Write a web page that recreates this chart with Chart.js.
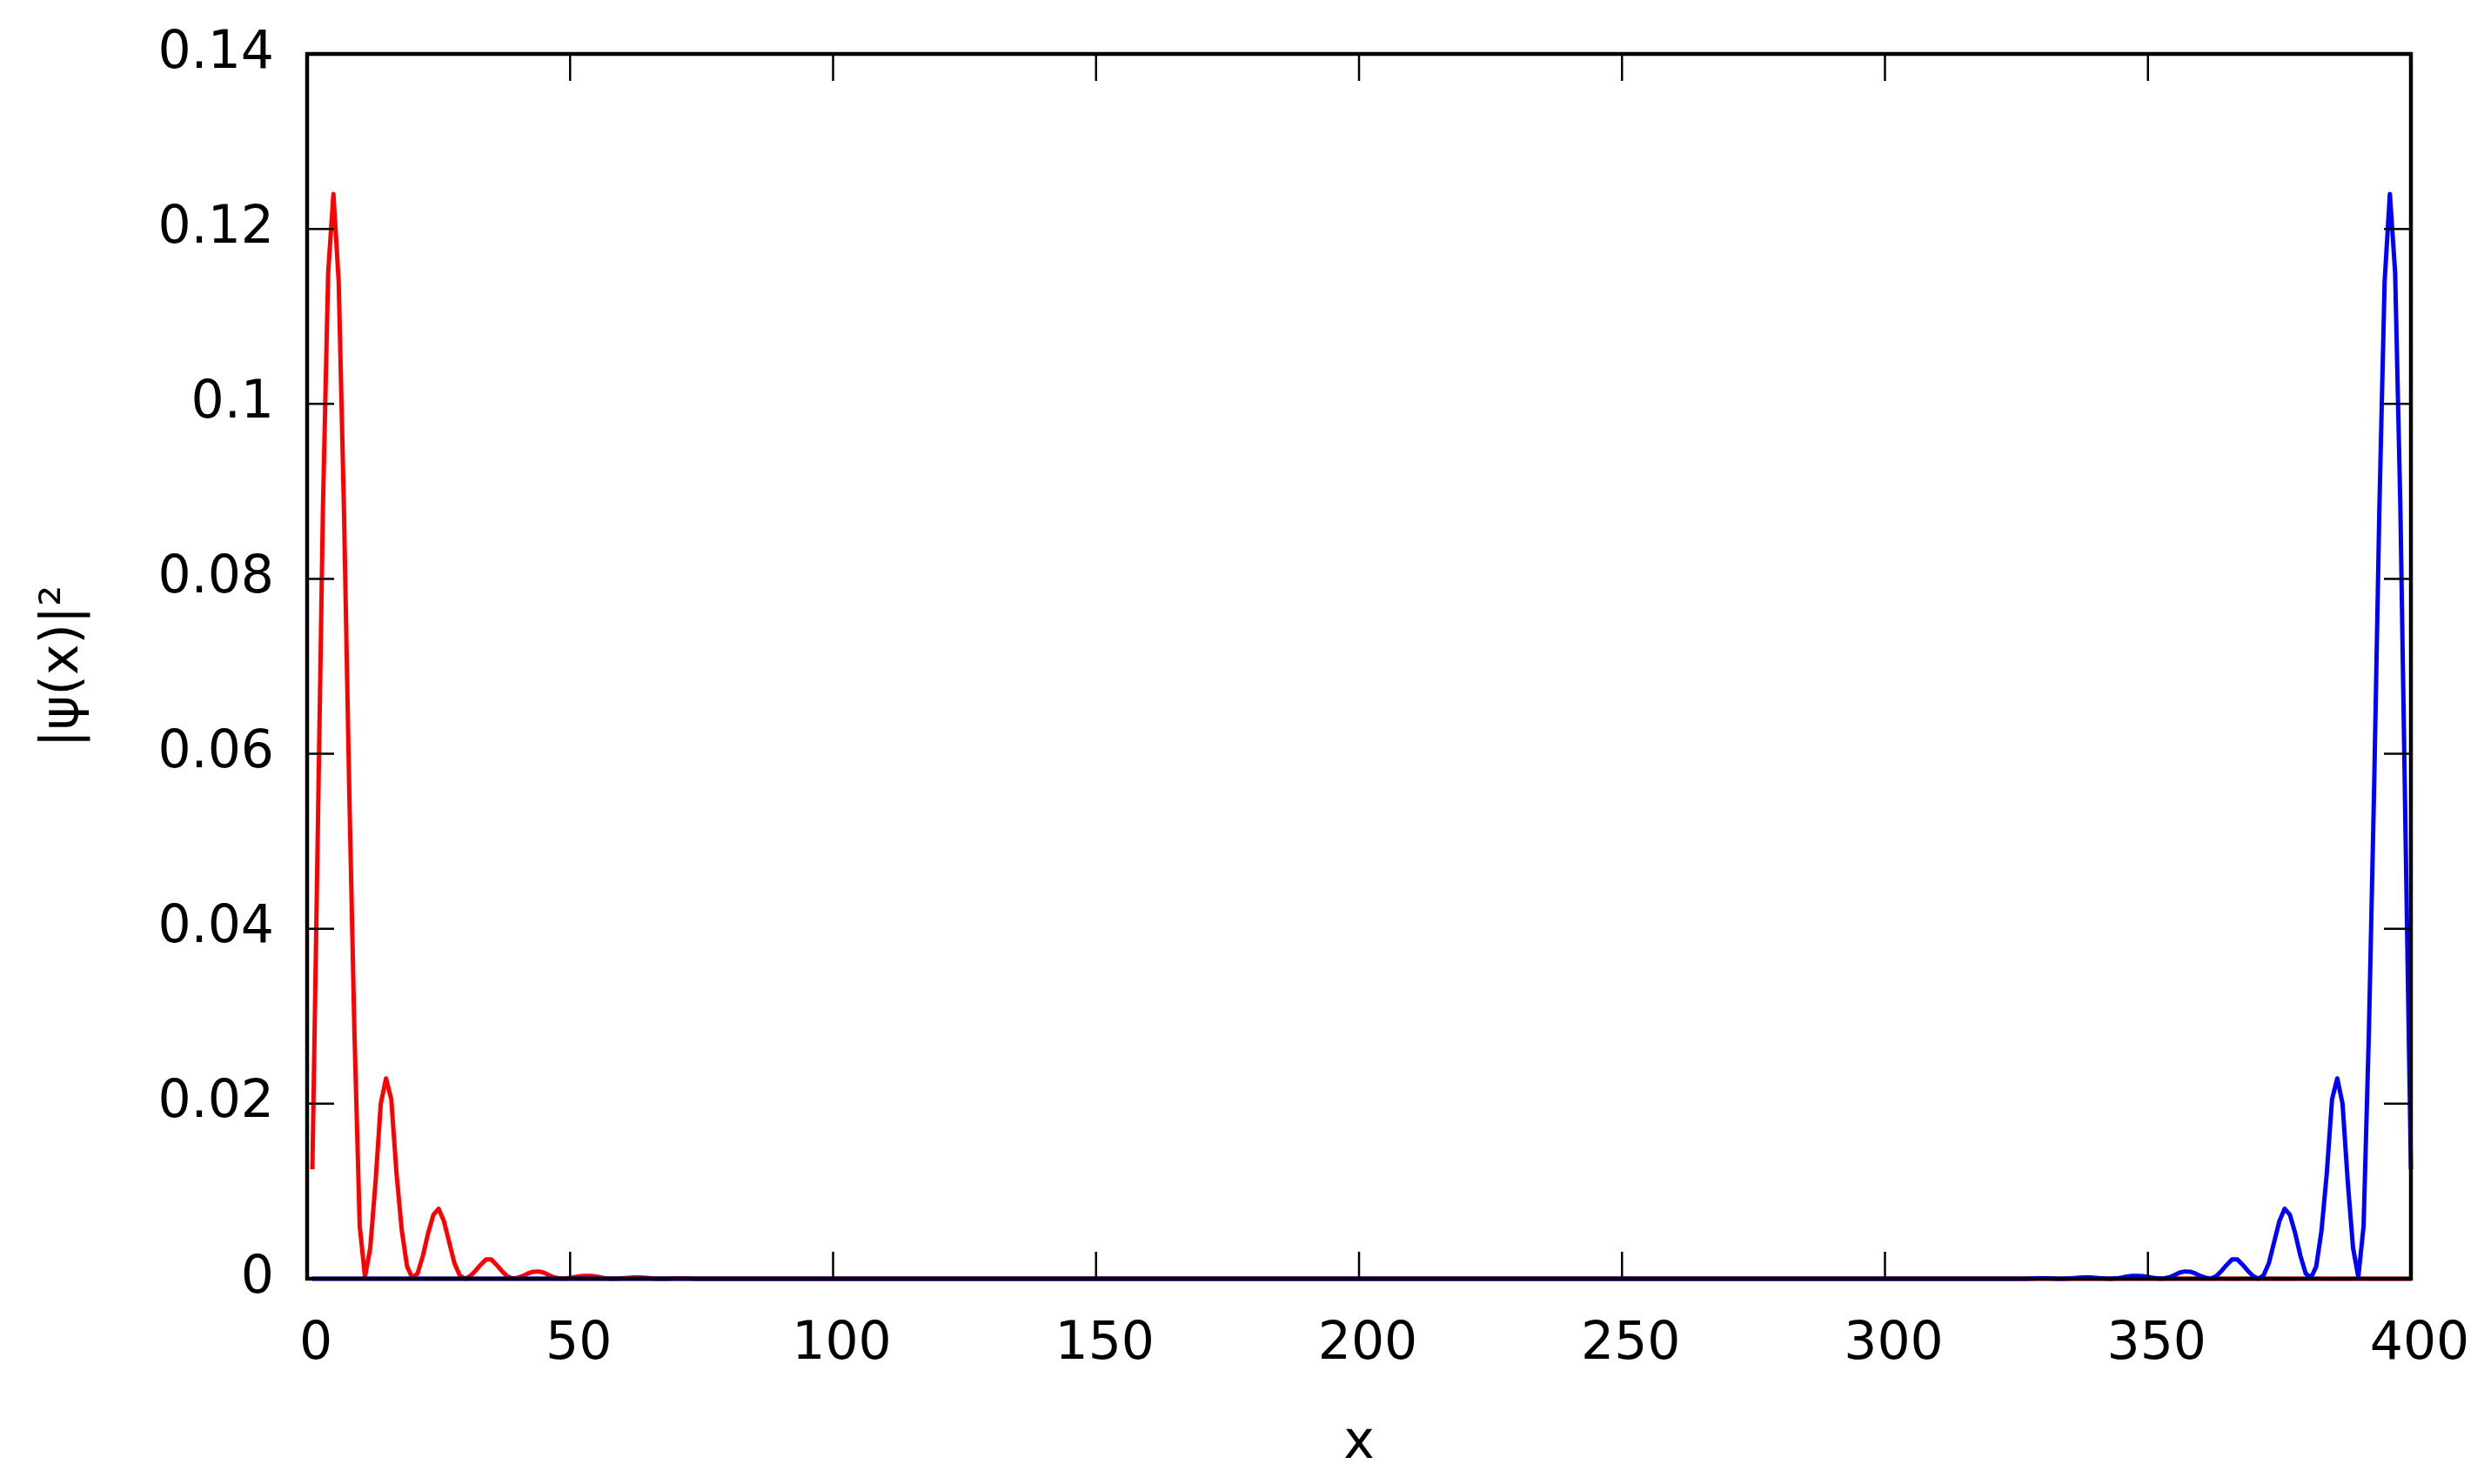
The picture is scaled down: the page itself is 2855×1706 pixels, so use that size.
<!DOCTYPE html>
<html>
<head>
<meta charset="utf-8">
<script src="https://cdn.jsdelivr.net/npm/chart.js@4"></script>
<style>
  html, body { margin: 0; padding: 0; background: #ffffff; }
  #c { display: block; }
</style>
</head>
<body>
<canvas id="c" width="2855" height="1706" style="width:2855px;height:1706px"></canvas>
<script>
// ---- data ----
const redX = [1,2,3,4,5,6,7,8,9,10,11,12,13,14,15,16,17,18,19,20,21,22,23,24,25,26,27,28,29,30,
  31,32,33,34,35,36,37,38,39,40,41,42,43,44,45,46,47,48,49,50,51,52,53,54,55,56,57,58,59,60,
  61,62,63,64,65,66,67,68,69,70,71,72,73,74,75,400];
const redY = [0.0125,0.050,0.088,0.115,0.124,0.114,0.088,0.056,0.028,0.006,
  0.0002,0.0035,0.011,0.020,0.0229,0.0205,0.012,0.0055,0.0014,0.0001,
  0.0006,0.0026,0.0052,0.0073,0.0080,0.0066,0.0042,0.0018,0.0004,0.0,
  0.0003,0.0009,0.0016,0.0022,0.0022,0.0016,0.0009,0.0003,0.00002,0.0001,
  0.0003,0.0006,0.0008,0.00083,0.0007,0.0004,0.00015,0.00002,0.00003,0.0001,
  0.0002,0.0003,0.00033,0.00033,0.00025,0.00013,0.00004,0.0,0.00002,0.00006,
  0.0001,0.00014,0.00015,0.00012,0.00007,0.00003,0.0,0.00001,0.00003,0.00005,
  0.00006,0.00005,0.00003,0.00001,0.0,0.0];

const blueX = [1,326,327,328,329,330,331,332,333,334,335,336,337,338,339,340,341,342,343,344,345,
  346,347,348,349,350,351,352,353,354,355,356,357,358,359,360,361,362,363,364,365,
  366,367,368,369,370,371,372,373,374,375,376,377,378,379,380,381,382,383,384,385,
  386,387,388,389,390,391,392,393,394,395,396,397,398,399,400];
const blueY = [0.0,0.0,0.00001,0.00003,0.00005,0.00006,0.00005,0.00003,0.00001,0.0,0.00003,
  0.00007,0.00012,0.00015,0.00014,0.0001,0.00006,0.00002,0.0,0.00004,0.00013,
  0.00025,0.00033,0.00033,0.0003,0.0002,0.0001,0.00003,0.00002,0.00015,0.0004,
  0.0007,0.00083,0.0008,0.0006,0.0003,0.0001,0.00002,0.0003,0.0009,0.0016,
  0.0022,0.0022,0.0016,0.0009,0.0003,0.0,0.0004,0.0018,0.0042,0.0066,
  0.0080,0.0073,0.0052,0.0026,0.0006,0.0001,0.0014,0.0055,0.012,0.0205,
  0.0229,0.020,0.011,0.0035,0.0002,0.006,0.028,0.056,0.088,0.114,
  0.124,0.115,0.088,0.050,0.0125];

const xTitle = 'x';
const yTitle = '|\u03C8(x)|\u00B2';
const xMin = 0, xMax = 400, xStep = 50;
const yMin = 0, yMax = 0.14, yStep = 0.02;

const pairs = (xs, ys) => xs.map((v, i) => ({ x: v, y: ys[i] }));

const FONT = 'DejaVu Sans';

const framePlugin = {
  id: 'frame',
  afterDatasetsDraw(chart) {
    const { ctx, chartArea: a, scales: { x, y } } = chart;
    const TL = 31;
    ctx.save();
    ctx.strokeStyle = '#000000';
    ctx.lineWidth = 2.5;
    ctx.beginPath();
    x.ticks.forEach(t => {
      const p = x.getPixelForValue(t.value);
      ctx.moveTo(p, a.bottom); ctx.lineTo(p, a.bottom - TL);
      ctx.moveTo(p, a.top); ctx.lineTo(p, a.top + TL);
    });
    y.ticks.forEach(t => {
      const p = y.getPixelForValue(t.value);
      ctx.moveTo(a.left, p); ctx.lineTo(a.left + TL, p);
      ctx.moveTo(a.right, p); ctx.lineTo(a.right - TL, p);
    });
    ctx.stroke();
    ctx.lineWidth = 4.5;
    ctx.strokeRect(a.left, a.top, a.right - a.left, a.bottom - a.top);
    ctx.restore();
  }
};

function noPad(s) { s.paddingTop = 0; s.paddingBottom = 0; s.paddingLeft = 0; s.paddingRight = 0; }

new Chart(document.getElementById('c'), {
  type: 'line',
  data: {
    datasets: [
      { label: 'right', data: pairs(blueX, blueY), borderColor: '#0000ff', borderWidth: 5,
        borderJoinStyle: 'round', pointRadius: 0, tension: 0, fill: false, clip: false, order: 0 },
      { label: 'left', data: pairs(redX, redY), borderColor: '#ff0000', borderWidth: 5,
        borderJoinStyle: 'round', pointRadius: 0, tension: 0, fill: false, clip: false, order: 1 }
    ]
  },
  options: {
    responsive: false,
    devicePixelRatio: 1,
    animation: false,
    layout: { padding: { top: 62, right: 84, left: 0, bottom: 0 } },
    plugins: { legend: { display: false }, tooltip: { enabled: false } },
    scales: {
      x: {
        type: 'linear', min: xMin, max: xMax,
        grid: { display: false, drawTicks: false },
        border: { display: false },
        ticks: { stepSize: xStep, padding: 40, labelOffset: 10, color: '#000',
                 font: { family: FONT, size: 60 }, maxRotation: 0 },
        title: { display: true, text: xTitle, color: '#000',
                 font: { family: FONT, size: 60 }, padding: { top: 0, bottom: 10 } },
        afterFit(s) { s.height = 236; noPad(s); }
      },
      y: {
        type: 'linear', min: yMin, max: yMax,
        grid: { display: false, drawTicks: false },
        border: { display: false },
        ticks: { stepSize: yStep, padding: 38, color: '#000',
                 font: { family: FONT, size: 60 },
                 callback: v => String(parseFloat(Number(v).toFixed(2))) },
        title: { display: true, text: yTitle, color: '#000',
                 font: { family: FONT, size: 60 }, padding: { top: 37, bottom: 0 } },
        afterFit(s) { s.width = 353; noPad(s); }
      }
    }
  },
  plugins: [framePlugin]
});
</script>
</body>
</html>
